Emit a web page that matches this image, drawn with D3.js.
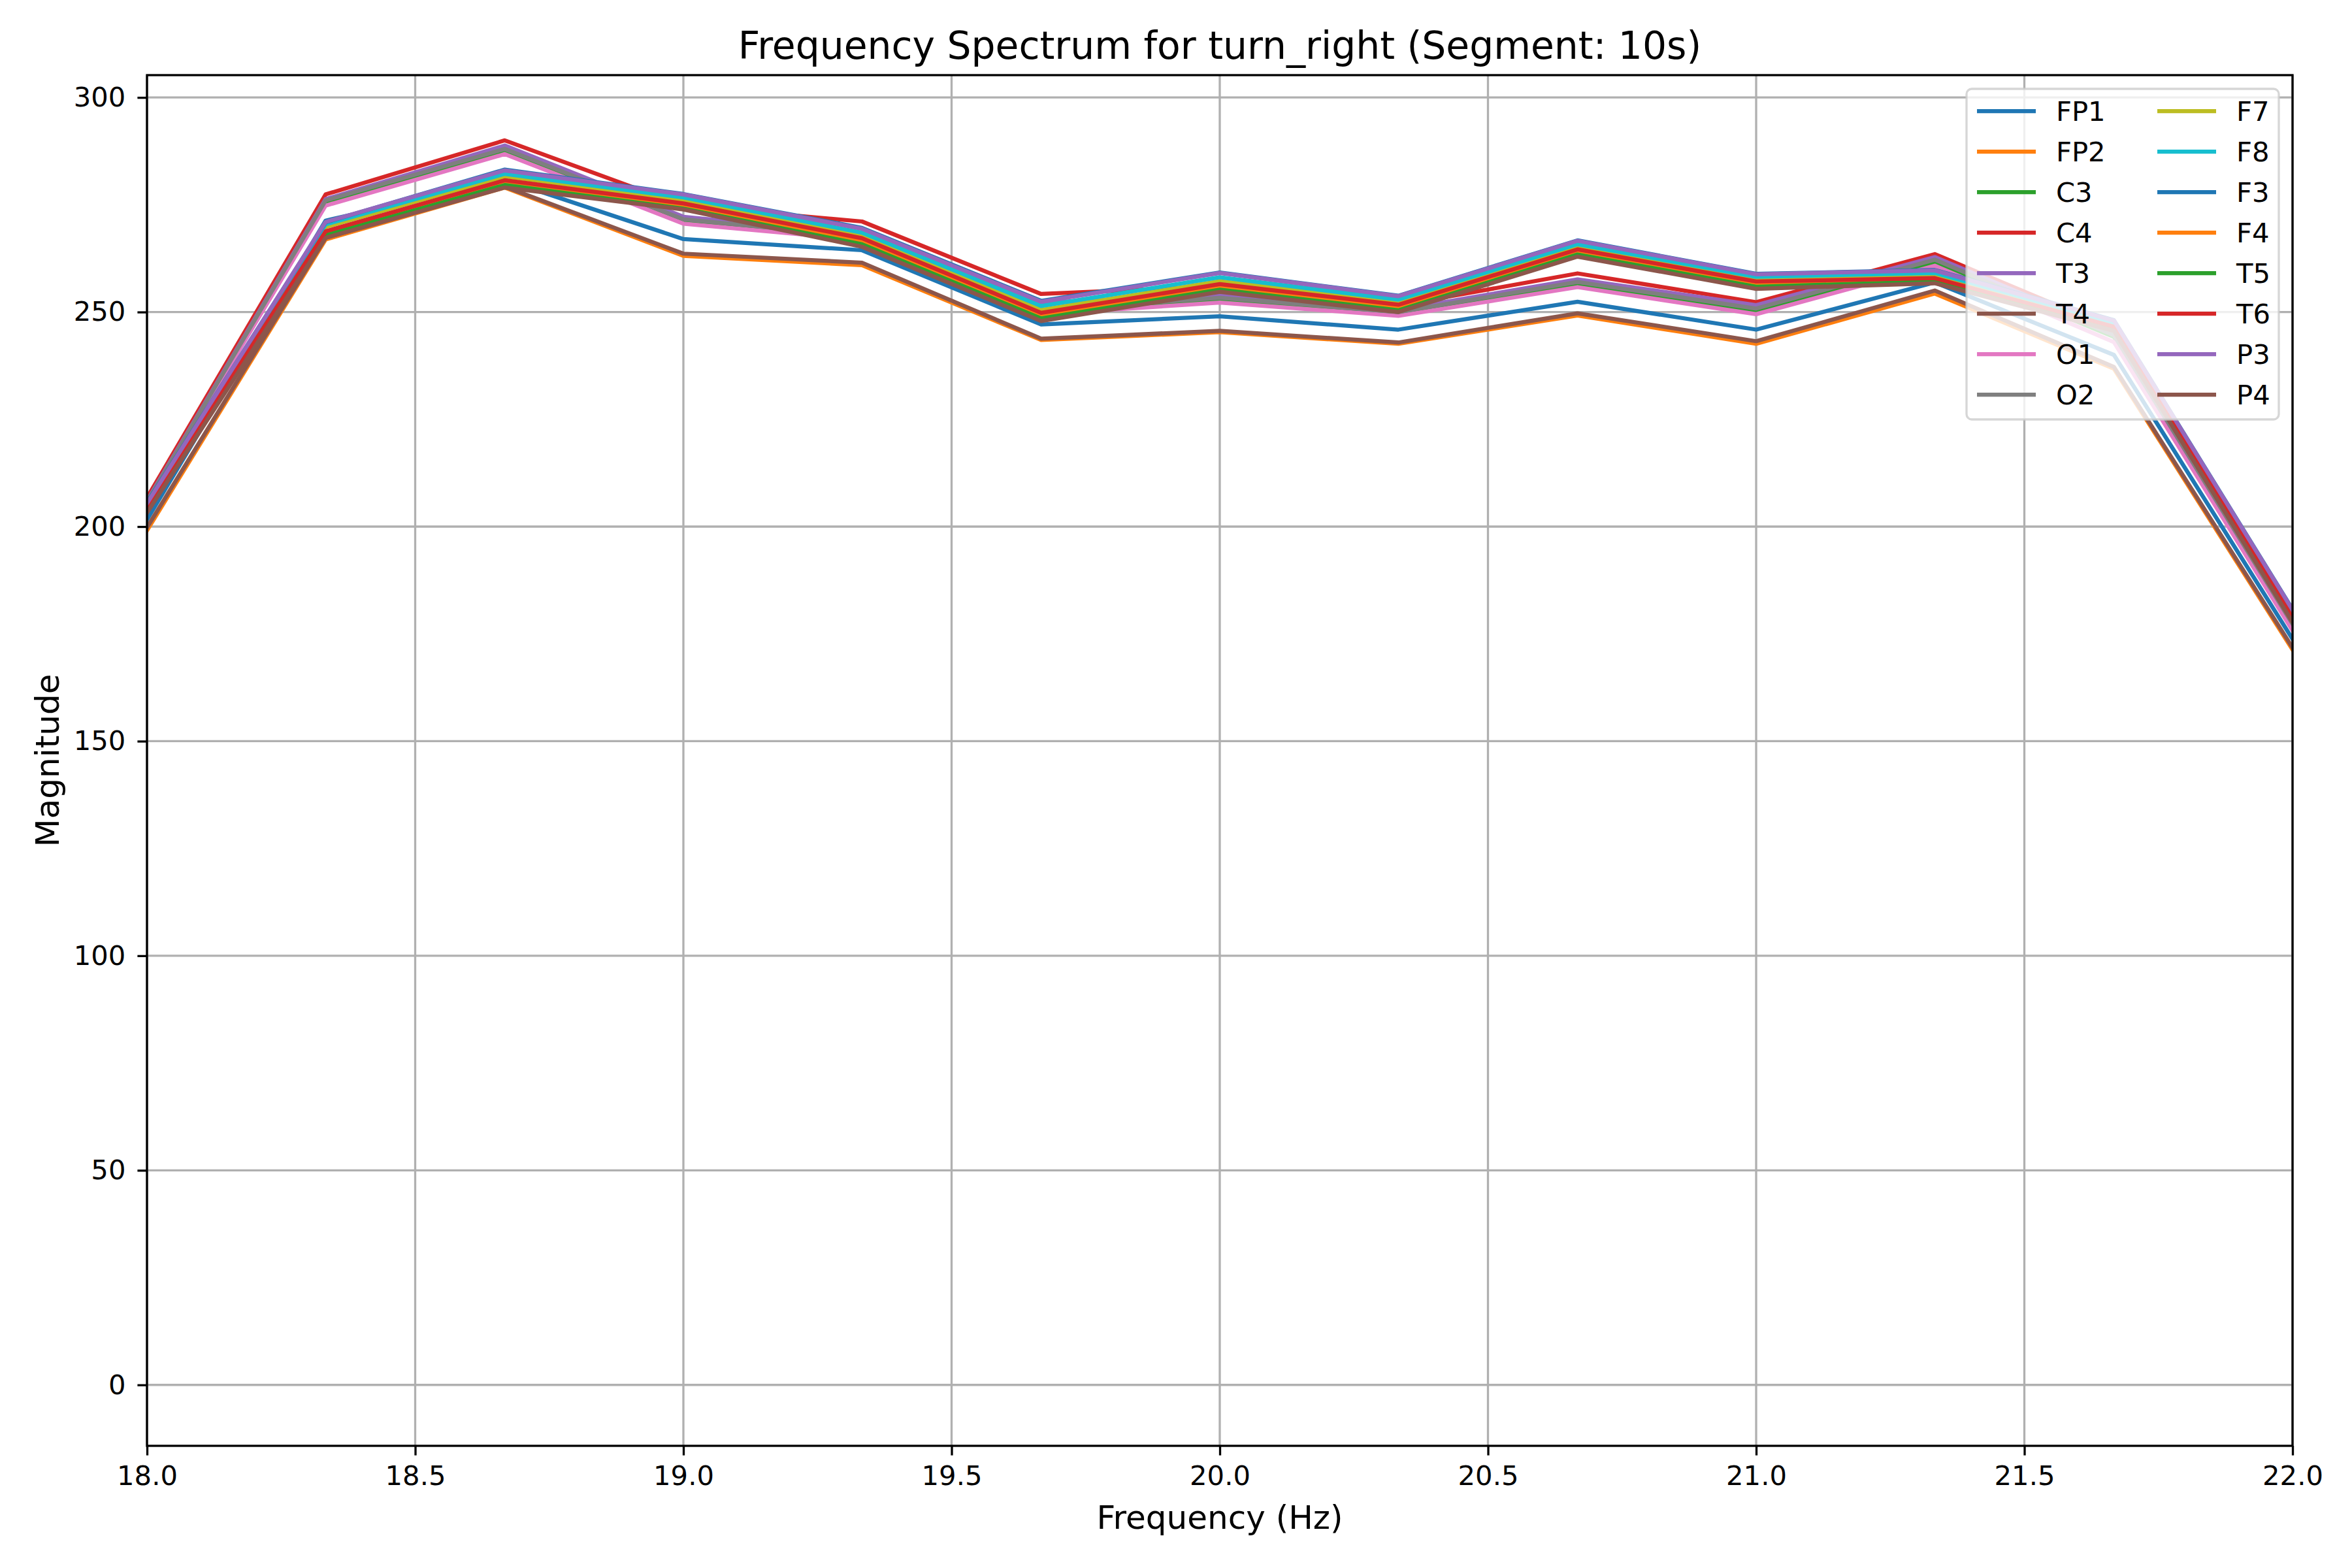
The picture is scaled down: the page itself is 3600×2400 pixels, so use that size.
<!DOCTYPE html>
<html>
<head>
<meta charset="utf-8">
<script src="https://cdn.jsdelivr.net/npm/d3@7"></script>
<style>
body{margin:0;background:#fff;}
text{font-family:"DejaVu Sans",sans-serif;fill:#000;}
</style>
</head>
<body>
<svg id="chart" width="3600" height="2400"></svg>
<script>
//data
var freqs = [18.0, 18.333, 18.667, 19.0, 19.333, 19.667, 20.0, 20.333, 20.667, 21.0, 21.333, 21.667, 22.0];
var channels = ["FP1","FP2","C3","C4","T3","T4","O1","O2","F7","F8","F3","F4","T5","T6","P3","P4"];
var colors = ["#1f77b4","#ff7f0e","#2ca02c","#d62728","#9467bd","#8c564b","#e377c2","#7f7f7f",
	"#bcbd22","#17becf","#1f77b4","#ff7f0e","#2ca02c","#d62728","#9467bd","#8c564b"];

var FP1 = [201.6, 271.3, 280.8, 267.0, 264.4, 247.1, 249.0, 245.9, 252.4, 245.9, 256.9, 240.0, 173.8];
var FP2 = [199.1, 266.9, 279.0, 263.1, 260.9, 243.5, 245.3, 242.6, 249.2, 242.6, 254.3, 236.8, 171.3];
var C3  = [205.5, 275.5, 287.3, 271.2, 267.2, 250.0, 252.8, 249.5, 256.5, 250.2, 261.5, 244.2, 177.0];
var C4  = [206.7, 277.4, 290.0, 274.8, 271.1, 254.2, 256.0, 251.5, 259.0, 252.3, 263.5, 246.0, 178.5];
var T3  = [206.0, 276.3, 288.8, 272.2, 268.2, 252.2, 253.9, 250.5, 257.6, 251.6, 262.8, 245.3, 178.0];
var T4  = [199.8, 267.3, 279.2, 263.6, 261.5, 243.8, 245.6, 242.9, 249.7, 243.2, 255.0, 237.2, 171.8];
var O1  = [205.2, 274.8, 286.8, 270.6, 266.8, 249.5, 252.2, 249.1, 255.8, 249.5, 260.8, 243.0, 175.8];
var O2  = [205.8, 276.0, 288.0, 271.6, 267.6, 250.4, 253.3, 250.0, 257.0, 250.8, 262.2, 244.6, 177.3];
var F7  = [204.6, 269.8, 281.6, 276.1, 268.0, 250.5, 257.2, 252.4, 265.3, 257.7, 258.7, 247.0, 179.4];
var F8  = [205.0, 270.4, 282.2, 276.7, 268.5, 251.4, 258.1, 252.9, 265.8, 258.2, 259.1, 247.5, 179.8];
var F3  = [205.6, 270.9, 283.2, 277.5, 269.6, 252.6, 259.2, 253.8, 266.7, 258.9, 259.8, 248.1, 180.7];
var F4  = [203.8, 268.3, 280.0, 274.5, 266.5, 249.0, 255.7, 250.9, 263.9, 256.4, 257.4, 246.2, 178.3];
var T5  = [203.5, 267.9, 279.6, 274.1, 265.8, 248.5, 255.2, 250.4, 263.4, 255.9, 257.1, 245.9, 178.0];
var T6  = [204.2, 268.8, 280.7, 275.3, 267.2, 249.8, 256.5, 251.7, 264.6, 257.1, 257.9, 246.6, 178.8];
var P3  = [205.4, 271.0, 283.0, 277.4, 269.4, 252.4, 259.1, 253.7, 266.6, 258.8, 259.7, 248.0, 180.6];
var P4  = [203.2, 267.3, 279.0, 273.9, 265.2, 247.9, 254.7, 250.0, 262.9, 255.4, 256.7, 245.6, 177.7];

var xTicks = [18.0, 18.5, 19.0, 19.5, 20.0, 20.5, 21.0, 21.5, 22.0];
var yTicks = [0, 50, 100, 150, 200, 250, 300];

var SpectrumChart = {
	settings:{
		left:225, right:3509, top:115, bottom:2213,
		lineWidth:6.25, tickFont:41.7, labelFont:50, titleFont:58.3
	},
	init: function(s_svg){
		var s = this.settings;
		var svg = d3.select(s_svg);
		var x = d3.scaleLinear().domain([18, 22]).range([s.left, s.right]);
		var y = d3.scaleLinear().domain([-14.2, 305.2]).range([s.bottom, s.top]);
		var series = [FP1,FP2,C3,C4,T3,T4,O1,O2,F7,F8,F3,F4,T5,T6,P3,P4];

		svg.append("rect").attr("width",3600).attr("height",2400).attr("fill","#fff");
		svg.append("clipPath").attr("id","plotClip")
		.append("rect")
		.attr("x",s.left).attr("y",s.top)
		.attr("width",s.right-s.left).attr("height",s.bottom-s.top);

		//grid
		svg.append("g").selectAll("line").data(xTicks).enter().append("line")
		.attr("x1",function(d){ return x(d); }).attr("x2",function(d){ return x(d); })
		.attr("y1",s.top).attr("y2",s.bottom)
		.attr("stroke","#b0b0b0").attr("stroke-width",3.3);
		svg.append("g").selectAll("line").data(yTicks).enter().append("line")
		.attr("y1",function(d){ return y(d); }).attr("y2",function(d){ return y(d); })
		.attr("x1",s.left).attr("x2",s.right)
		.attr("stroke","#b0b0b0").attr("stroke-width",3.3);

		//lines
		var line = d3.line()
		.x(function(d,i){ return x(freqs[i]); })
		.y(function(d){ return y(d); });
		svg.append("g").attr("clip-path","url(#plotClip)")
		.selectAll("path").data(series).enter().append("path")
		.attr("d",line)
		.attr("fill","none")
		.attr("stroke",function(d,i){ return colors[i]; })
		.attr("stroke-width",s.lineWidth)
		.attr("stroke-linejoin","round")
		.attr("stroke-linecap","square");

		//axes
		var xAxis = svg.append("g").attr("transform","translate(0,"+s.bottom+")")
		.call(d3.axisBottom(x).tickValues(xTicks).tickFormat(d3.format(".1f")).tickSize(14.6).tickPadding(16));
		var yAxis = svg.append("g").attr("transform","translate("+s.left+",0)")
		.call(d3.axisLeft(y).tickValues(yTicks).tickFormat(d3.format("d")).tickSize(14.6).tickPadding(18));
		[xAxis,yAxis].forEach(function(a){
			a.select(".domain").remove();
			a.selectAll(".tick line").attr("stroke","#000").attr("stroke-width",3.3);
			a.selectAll(".tick text").attr("font-size",s.tickFont).attr("font-family","DejaVu Sans").attr("fill","#000");
		});

		svg.append("rect")
		.attr("x",s.left).attr("y",s.top)
		.attr("width",s.right-s.left).attr("height",s.bottom-s.top)
		.attr("fill","none").attr("stroke","#000").attr("stroke-width",3.3);

		//texts
		svg.append("text").attr("x",(s.left+s.right)/2).attr("y",90)
		.attr("text-anchor","middle").attr("font-size",s.titleFont)
		.text("Frequency Spectrum for turn_right (Segment: 10s)");
		svg.append("text").attr("x",(s.left+s.right)/2).attr("y",2340)
		.attr("text-anchor","middle").attr("font-size",s.labelFont)
		.text("Frequency (Hz)");
		svg.append("text").attr("transform","translate(90,"+((s.top+s.bottom)/2)+") rotate(-90)")
		.attr("text-anchor","middle").attr("font-size",s.labelFont)
		.text("Magnitude");

		this.legend(svg);
	},
	legend: function(svg){
		var s = this.settings;
		var lg = svg.append("g");
		lg.append("rect")
		.attr("x",3010).attr("y",136).attr("width",478).attr("height",506)
		.attr("rx",8).attr("ry",8)
		.attr("fill","#fff").attr("fill-opacity",0.8)
		.attr("stroke","#cccccc").attr("stroke-opacity",0.8).attr("stroke-width",3.3);
		var items = lg.selectAll("g.item").data(channels).enter().append("g")
		.attr("transform",function(d,i){
			var col = Math.floor(i/8), row = i%8;
			return "translate("+(3026+col*276)+","+(170+row*62)+")";
		});
		items.append("line")
		.attr("x1",0).attr("x2",90).attr("y1",0).attr("y2",0)
		.attr("stroke",function(d,i){ return colors[i]; })
		.attr("stroke-width",s.lineWidth);
		items.append("text")
		.attr("x",121).attr("y",15)
		.attr("font-size",s.tickFont)
		.text(function(d){ return d; });
	}
};

SpectrumChart.init("#chart");
</script>
</body>
</html>
